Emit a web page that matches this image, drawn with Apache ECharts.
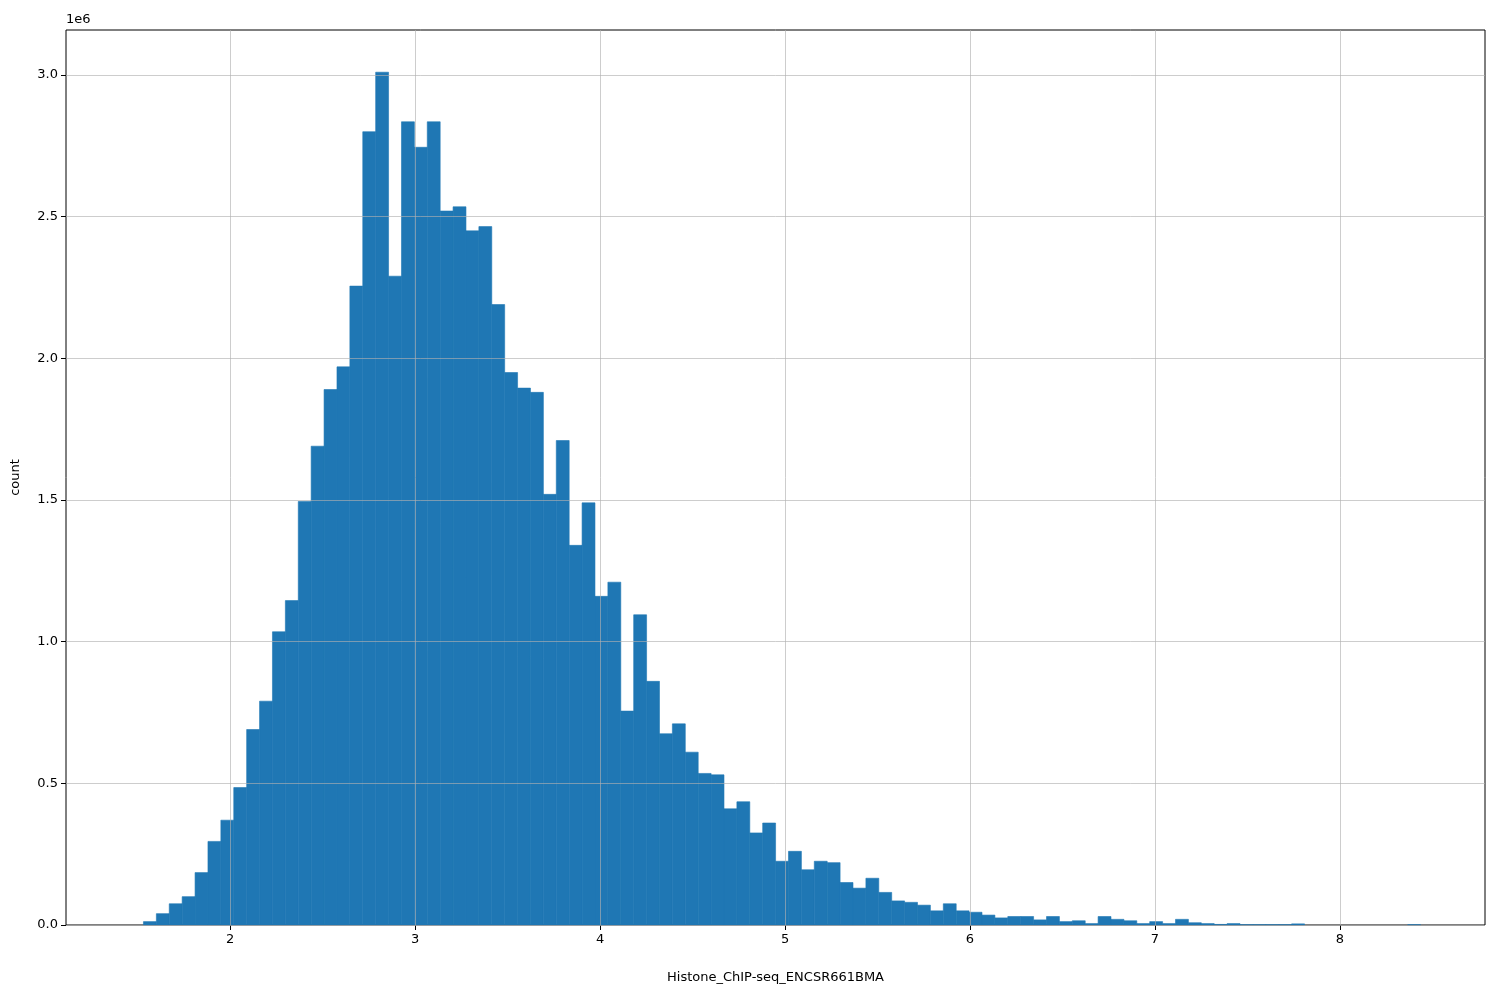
<!DOCTYPE html>
<html><head><meta charset="utf-8">
<script src="https://cdn.jsdelivr.net/npm/echarts@6/dist/echarts.min.js"></script>
<style>html,body{margin:0;padding:0;background:#fff}#c{width:1500px;height:1000px}</style>
</head><body><div id="c"></div>
<script>
const binStart = 1.462;
const binWidth = 0.06974;
const counts = [0,0.012,0.04,0.075,0.1,0.185,0.295,0.37,0.485,0.69,0.79,1.035,1.145,1.495,1.69,1.89,1.97,2.255,2.80,3.01,2.29,2.835,2.745,2.835,2.52,2.535,2.45,2.465,2.19,1.95,1.895,1.88,1.52,1.71,1.34,1.49,1.16,1.21,0.755,1.095,0.86,0.675,0.71,0.61,0.535,0.53,0.41,0.435,0.325,0.36,0.225,0.26,0.195,0.225,0.22,0.15,0.13,0.165,0.115,0.085,0.08,0.07,0.05,0.075,0.05,0.045,0.035,0.025,0.03,0.03,0.018,0.03,0.012,0.015,0.005,0.03,0.02,0.015,0.005,0.012,0.005,0.02,0.008,0.005,0.002,0.005,0.001,0.001,0.001,0.001,0.004,0,0,0,0,0,0,0,0,0.001];
const xTicks = [2,3,4,5,6,7,8];
const yTicks = [0,0.5,1.0,1.5,2.0,2.5,3.0];
const data = counts.map((c,i)=>[binStart+i*binWidth, binStart+(i+1)*binWidth, c*1e6]);
const chart = echarts.init(document.getElementById('c'));
const font = {fontFamily:'DejaVu Sans', fontSize:13, color:'#000'};
chart.setOption({
  animation:false,
  grid:{left:66,right:15,top:30,bottom:75,show:true,borderColor:'#000',borderWidth:1},
  xAxis:{type:'value',min:1.113,max:8.784,
    name:'Histone_ChIP-seq_ENCSR661BMA',nameLocation:'middle',nameGap:46,nameTextStyle:font,
    axisLine:{show:false},
    axisTick:{show:true,customValues:xTicks,length:5,lineStyle:{color:'#000'}},
    axisLabel:Object.assign({customValues:xTicks,margin:8},font),
    splitLine:{show:false}},
  yAxis:{type:'value',min:0,max:3159000,
    name:'count',nameLocation:'middle',nameGap:44,nameTextStyle:font,
    axisLine:{show:false},
    axisTick:{show:true,customValues:yTicks.map(v=>v*1e6),length:5,lineStyle:{color:'#000'}},
    axisLabel:Object.assign({customValues:yTicks.map(v=>v*1e6),formatter:v=>(v/1e6).toFixed(1),margin:8},font),
    splitLine:{show:false}},
  graphic:[{type:'text',left:66,top:13,style:{text:'1e6',font:'13px DejaVu Sans',fill:'#000'}}],
  series:[
  {type:'custom',data:data,encode:{x:[0,1],y:2},z:2,
   renderItem:(p,api)=>{
     if(api.value(2)<=0) return null;
     const a=api.coord([api.value(0),api.value(2)]);
     const b=api.coord([api.value(1),0]);
     return {type:'rect',shape:{x:a[0],y:a[1],width:b[0]-a[0],height:b[1]-a[1]},style:{fill:'#1f77b4',stroke:'#1f77b4',lineWidth:0.6}};
   }},
  {type:'line',data:[],z:3,markLine:{silent:true,symbol:'none',label:{show:false},
    lineStyle:{color:'#b0b0b0',width:0.8,type:'solid',opacity:0.8},
    data:xTicks.map(v=>({xAxis:v})).concat(yTicks.map(v=>({yAxis:v*1e6})))}}
  ]
});
</script></body></html>
